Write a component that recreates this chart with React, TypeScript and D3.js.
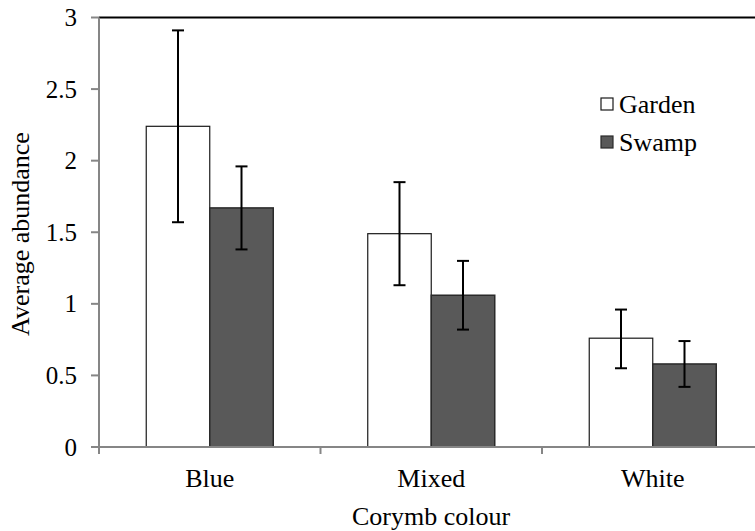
import React from "react";
import * as d3 from "d3";

const categories = ["Blue", "Mixed", "White"];
const seriesNames = ["Garden", "Swamp"];
const gardenValues = [2.24, 1.49, 0.76];
const gardenLow = [1.57, 1.13, 0.55];
const gardenHigh = [2.91, 1.85, 0.96];
const swampValues = [1.67, 1.06, 0.58];
const swampLow = [1.38, 0.82, 0.42];
const swampHigh = [1.96, 1.30, 0.74];
const yTicks = [0, 0.5, 1, 1.5, 2, 2.5, 3];
const yTickLabels = ["0", "0.5", "1", "1.5", "2", "2.5", "3"];

const W = 755;
const H = 531;
const FONT = "'Liberation Serif', 'Nimbus Roman', 'FreeSerif', 'DejaVu Serif', serif";
const fills = ["#ffffff", "#595959"];
const strokes = ["#1a1a1a", "#2a2a2a"];
const axisGray = "#868686";

export default function App() {
  const left = 99;
  const right = 763.5;
  const top = 17.5;
  const bottom = 447;
  const x0 = d3.scaleBand<string>().domain(categories).range([left, right]).padding(0);
  const x1 = d3
    .scaleBand<string>()
    .domain(seriesNames)
    .range([0, x0.bandwidth()])
    .paddingInner(0)
    .paddingOuter(0.744);
  const y = d3.scaleLinear().domain([0, 3]).range([bottom, top]);

  const series = [
    { name: seriesNames[0], values: gardenValues, low: gardenLow, high: gardenHigh },
    { name: seriesNames[1], values: swampValues, low: swampLow, high: swampHigh },
  ];

  const boundaries = categories.map((c) => x0(c)!).concat([right]);

  return (
    <svg
      width={W}
      height={H}
      style={{ position: "absolute", left: 0, top: 0, background: "#fff" }}
    >
      <style>{`text { font-family: ${FONT}; }`}</style>
      <rect x={0} y={0} width={W} height={H} fill="#fff" />
      <line x1={left} x2={W} y1={y(3)} y2={y(3)} stroke="#000" strokeWidth={2} />
      {series.map((s, si) =>
        categories.map((c, ci) => {
          const bx = x0(c)! + x1(s.name)!;
          const bw = x1.bandwidth();
          return (
            <rect
              key={`b-${si}-${ci}`}
              x={bx}
              y={y(s.values[ci])}
              width={bw}
              height={y(0) - y(s.values[ci])}
              fill={fills[si]}
              stroke={strokes[si]}
              strokeWidth={si === 0 ? 1.2 : 1.5}
            />
          );
        })
      )}
      {series.map((s, si) =>
        categories.map((c, ci) => {
          const cx = x0(c)! + x1(s.name)! + x1.bandwidth() / 2;
          const yl = y(s.low[ci]);
          const yh = y(s.high[ci]);
          return (
            <g key={`e-${si}-${ci}`} stroke="#000" strokeWidth={2}>
              <line x1={cx} x2={cx} y1={yl} y2={yh} />
              <line x1={cx - 6} x2={cx + 6} y1={yl} y2={yl} />
              <line x1={cx - 6} x2={cx + 6} y1={yh} y2={yh} />
            </g>
          );
        })
      )}
      <line x1={left} x2={left} y1={y(3)} y2={bottom + 7} stroke={axisGray} strokeWidth={2} />
      {yTicks.map((t, i) => (
        <g key={`yt-${i}`}>
          <line x1={left - 8} x2={left} y1={y(t)} y2={y(t)} stroke={axisGray} strokeWidth={2} />
          <text x={77} y={y(t)} textAnchor="end" dominantBaseline="central" fontSize={25} fill="#000">
            {yTickLabels[i]}
          </text>
        </g>
      ))}
      <line x1={left - 8} x2={W} y1={bottom} y2={bottom} stroke={axisGray} strokeWidth={2} />
      {boundaries.map((bx, i) => (
        <line key={`xt-${i}`} x1={bx} x2={bx} y1={bottom} y2={bottom + 7} stroke={axisGray} strokeWidth={2} />
      ))}
      {categories.map((c) => (
        <text key={`xl-${c}`} x={x0(c)! + x0.bandwidth() / 2} y={487} textAnchor="middle" fontSize={26} fill="#000">
          {c}
        </text>
      ))}
      <text x={431} y={525} textAnchor="middle" fontSize={26} fill="#000">
        Corymb colour
      </text>
      <text transform={`translate(29, 234) rotate(-90)`} textAnchor="middle" fontSize={26} fill="#000">
        Average abundance
      </text>
      {seriesNames.map((n, i) => {
        const cy = 104 + i * 38;
        return (
          <g key={`lg-${n}`}>
            <rect x={601} y={cy - 6} width={12} height={12} fill={fills[i]} stroke={strokes[i]} strokeWidth={1.2} />
            <text x={619} y={cy} dominantBaseline="central" fontSize={26} fill="#000">
              {n}
            </text>
          </g>
        );
      })}
    </svg>
  );
}
